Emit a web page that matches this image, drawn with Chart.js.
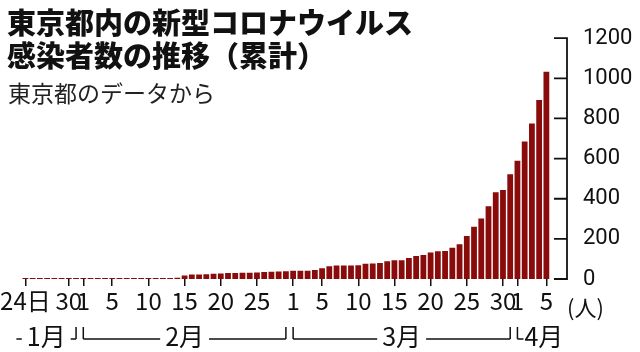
<!DOCTYPE html>
<html>
<head>
<meta charset="utf-8">
<script src="https://cdn.jsdelivr.net/npm/chart.js@4.4.1/dist/chart.umd.min.js"></script>
<style>
  html, body { margin: 0; padding: 0; background: #fff; }
  #wrap { position: relative; width: 640px; height: 352px; overflow: hidden; }
  #chart { position: absolute; left: 0; top: 0; }
  .title { position: absolute; left: 7px; top: 5px; font-family: "Noto Sans CJK JP", sans-serif; font-weight: 900; font-size: 29px; line-height: 33px; color: #111; white-space: nowrap; }
  .sub { position: absolute; left: 8px; top: 79px; font-family: "Noto Sans CJK JP", sans-serif; font-weight: 400; font-size: 23px; line-height: 26px; color: #222; white-space: nowrap; }
  .unit { position: absolute; left: 567px; top: 293px; font-family: "Noto Sans CJK JP", sans-serif; font-size: 22px; line-height: 26px; color: #111; }
</style>
</head>
<body>
<div id="wrap">
  <canvas id="chart" width="640" height="352"></canvas>
  <div class="title">東京都内の新型コロナウイルス<br>感染者数の推移（累計）</div>
  <div class="sub">東京都のデータから</div>
  <div class="unit">(人)</div>
</div>
<script>
// days from 1/24 to 4/5
const days = [
  '1/24','1/25','1/26','1/27','1/28','1/29','1/30','1/31',
  '2/1','2/2','2/3','2/4','2/5','2/6','2/7','2/8','2/9','2/10','2/11','2/12','2/13','2/14','2/15',
  '2/16','2/17','2/18','2/19','2/20','2/21','2/22','2/23','2/24','2/25','2/26','2/27','2/28','2/29',
  '3/1','3/2','3/3','3/4','3/5','3/6','3/7','3/8','3/9','3/10','3/11','3/12','3/13','3/14','3/15',
  '3/16','3/17','3/18','3/19','3/20','3/21','3/22','3/23','3/24','3/25','3/26','3/27','3/28','3/29','3/30','3/31',
  '4/1','4/2','4/3','4/4','4/5'
];

// cumulative cases
const totals = [
  1, 2, 2, 2, 2, 2, 3, 3,
  3, 3, 3, 3, 3, 3, 3, 3, 3, 3, 3, 3, 4, 6, 17,
  22, 22, 24, 26, 27, 30, 30, 31, 31, 33, 35, 36, 37, 39,
  41, 41, 41, 45, 53, 64, 67, 67, 67, 69, 76, 77, 80, 89, 94,
  94, 105, 114, 120, 132, 138, 139, 156, 173, 214, 261, 301, 363, 432, 444, 522,
  589, 685, 775, 892, 1033
];

const tickText = {
  '1/24': '24日', '1/30': '30', '2/1': '1', '2/5': '5', '2/10': '10', '2/15': '15', '2/20': '20', '2/25': '25',
  '3/1': '1', '3/5': '5', '3/10': '10', '3/15': '15', '3/20': '20', '3/25': '25', '3/30': '30',
  '4/1': '1', '4/5': '5'
};

const yTicks = [0, 200, 400, 600, 800, 1000, 1200];

const monthNames = ['1月', '2月', '3月', '4月'];
const monthFirst = ['1/24', '2/1', '3/1', '4/1'];
const monthLast = ['1/31', '2/29', '3/31', '4/5'];

const labelFont = '"Noto Sans CJK JP", sans-serif';

const axisExtras = {
  id: 'axisExtras',
  afterDraw(chart) {
    const ctx = chart.ctx;
    const xs = chart.scales.x;
    const ys = chart.scales.y;
    const ax = chart.chartArea.right + 17;

    ctx.save();
    ctx.strokeStyle = '#111';
    ctx.lineWidth = 1.8;
    ctx.beginPath();
    ctx.moveTo(ax, ys.getPixelForValue(1200));
    ctx.lineTo(ax, ys.getPixelForValue(0));
    yTicks.forEach(v => {
      const py = ys.getPixelForValue(v);
      ctx.moveTo(ax - 13, py);
      ctx.lineTo(ax + 0.9, py);
    });
    ctx.stroke();

    // month brackets
    const top = 327, bot = 339;
    ctx.font = '25px ' + labelFont;
    ctx.fillStyle = '#111';
    ctx.textBaseline = 'middle';
    ctx.lineWidth = 1.5;
    monthNames.forEach((name, i) => {
      const openStart = i === 0;
      const openEnd = i === monthNames.length - 1;
      let x0 = xs.getPixelForValue(days.indexOf(monthFirst[i]));
      let x1 = xs.getPixelForValue(days.indexOf(monthLast[i]));
      if (openStart) x0 -= 9;
      const w = ctx.measureText(name).width;
      ctx.beginPath();
      if (!openStart) { ctx.moveTo(x0, top); ctx.lineTo(x0, bot); }
      if (!openEnd) { ctx.moveTo(x1, top); ctx.lineTo(x1, bot); }
      if (x1 - x0 > w + 16) {
        const cx = (x0 + x1) / 2;
        ctx.moveTo(x0, bot); ctx.lineTo(cx - w / 2 - 5, bot);
        ctx.moveTo(cx + w / 2 + 5, bot); ctx.lineTo(x1, bot);
        ctx.stroke();
        ctx.textAlign = 'center';
        ctx.fillText(name, cx, bot - 3);
      } else {
        ctx.moveTo(x0, bot); ctx.lineTo(x0 + 6, bot);
        ctx.stroke();
        ctx.textAlign = 'left';
        ctx.fillText(name, x0 + 7, bot - 3);
      }
    });
    ctx.restore();
  }
};

new Chart(document.getElementById('chart'), {
  type: 'bar',
  data: {
    labels: days,
    datasets: [{
      data: totals,
      backgroundColor: '#8a0b0b',
      barPercentage: 0.8,
      categoryPercentage: 1,
      minBarLength: 1
    }]
  },
  options: {
    responsive: false,
    animation: false,
    layout: { padding: { top: 15, left: 13, right: 0, bottom: 0 } },
    plugins: { legend: { display: false }, tooltip: { enabled: false } },
    scales: {
      x: {
        offset: true,
        border: { display: false },
        grid: {
          offset: false,
          drawOnChartArea: false,
          tickLength: 7,
          lineWidth: 1.5,
          color: c => tickText[days[c.index]] ? '#111' : 'transparent'
        },
        ticks: {
          autoSkip: false,
          maxRotation: 0,
          minRotation: 0,
          padding: 0,
          color: '#111',
          font: { family: labelFont, size: 24 },
          callback: (v, i) => tickText[days[i]] || ''
        },
        afterFit: s => { s.height = 73; }
      },
      y: {
        position: 'right',
        min: 0,
        max: 1200,
        grid: { display: false },
        border: { display: false },
        ticks: {
          stepSize: 200,
          padding: 25,
          color: '#111',
          font: { family: 'Roboto, sans-serif', size: 22 },
          callback: v => String(v)
        },
        afterFit: s => { s.width = 90; }
      }
    }
  },
  plugins: [axisExtras]
});
</script>
</body>
</html>
